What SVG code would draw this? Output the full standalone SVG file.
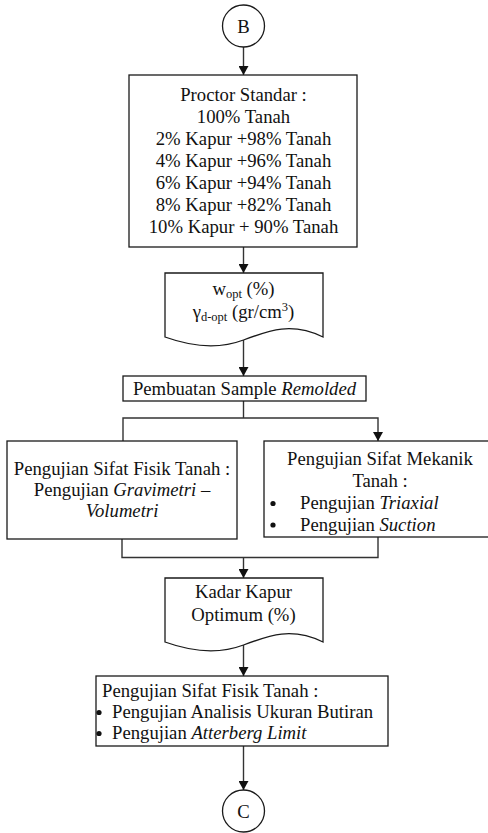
<svg xmlns="http://www.w3.org/2000/svg" width="488" height="833" viewBox="0 0 488 833">
  <style>
    .shape { fill: #ffffff; stroke: #1a1a1a; stroke-width: 1.3; }
    .wire { fill: none; stroke: #333333; stroke-width: 1.4; }
    .t { font-family: "Liberation Serif", "Times New Roman", serif; font-size: 18.7px; fill: #111111; }
    .c { text-anchor: middle; }
    .sub { font-size: 12.5px; }
  </style>
  <defs>
    <marker id="arrow" markerUnits="userSpaceOnUse" markerWidth="9" markerHeight="10" refX="9" refY="5" orient="auto">
      <path d="M0,0 L9,5 L0,10 Z" fill="#111111"/>
    </marker>
  </defs>

  <rect width="488" height="833" fill="#ffffff"/>

  <!-- connectors -->
  <g id="connectors">
    <line class="wire" x1="243.5" y1="47" x2="243.5" y2="75" marker-end="url(#arrow)"/>
    <line class="wire" x1="243.5" y1="247" x2="243.5" y2="273" marker-end="url(#arrow)"/>
    <line class="wire" x1="243.5" y1="340" x2="243.5" y2="376" marker-end="url(#arrow)"/>
    <polyline class="wire" points="243.5,401 243.5,418"/>
    <polyline class="wire" points="123,441 123,418 378,418 378,441" marker-start="url(#arrow)" marker-end="url(#arrow)"/>
    <polyline class="wire" points="122,539 122,557.5 378,557.5 378,537"/>
    <line class="wire" x1="243.5" y1="557.5" x2="243.5" y2="578" marker-end="url(#arrow)"/>
    <line class="wire" x1="243.5" y1="645" x2="243.5" y2="676" marker-end="url(#arrow)"/>
    <line class="wire" x1="243.5" y1="746" x2="243.5" y2="790" marker-end="url(#arrow)"/>
  </g>

  <!-- off-page connector B -->
  <g id="connector-b">
    <circle class="shape" cx="243.5" cy="26" r="21"/>
    <text class="t c" x="243.5" y="32.5">B</text>
  </g>

  <!-- compaction test mixes -->
  <g id="proctor">
    <rect class="shape" x="129" y="75" width="228" height="172"/>
    <text class="t c" x="243.5" y="101">Proctor Standar :</text>
    <text class="t c" x="243.5" y="123">100% Tanah</text>
    <text class="t c" x="243.5" y="145">2% Kapur +98% Tanah</text>
    <text class="t c" x="243.5" y="167">4% Kapur +96% Tanah</text>
    <text class="t c" x="243.5" y="189">6% Kapur +94% Tanah</text>
    <text class="t c" x="243.5" y="211">8% Kapur +82% Tanah</text>
    <text class="t c" x="243.5" y="233">10% Kapur + 90% Tanah</text>
  </g>

  <!-- compaction results (document) -->
  <g id="hasil-proctor">
    <path class="shape" d="M165,273 H323 V337 C292,322 270,330 243.5,340 C217,350 190,346 165,337 Z"/>
    <text class="t c" x="243.5" y="295">w<tspan class="sub" dy="3">opt</tspan><tspan dy="-3"> (%)</tspan></text>
    <text class="t c" x="243.5" y="318">γ<tspan class="sub" dy="3">d-opt</tspan><tspan dy="-3"> (gr/cm</tspan><tspan class="sub" dy="-7">3</tspan><tspan dy="7">)</tspan></text>
  </g>

  <g id="sample">
    <rect class="shape" x="123" y="376" width="243" height="25"/>
    <text class="t c" x="244.5" y="394.5">Pembuatan Sample <tspan font-style="italic">Remolded</tspan></text>
  </g>

  <g id="fisik-1">
    <rect class="shape" x="7" y="441" width="230" height="98"/>
    <text class="t c" x="122" y="475">Pengujian Sifat Fisik Tanah :</text>
    <text class="t c" x="122" y="496">Pengujian <tspan font-style="italic">Gravimetri –</tspan></text>
    <text class="t c" x="122" y="517" font-style="italic">Volumetri</text>
  </g>

  <g id="mekanik">
    <rect class="shape" x="264" y="441" width="228" height="96"/>
    <text class="t c" x="380" y="465">Pengujian Sifat Mekanik</text>
    <text class="t c" x="380" y="487">Tanah :</text>
    <circle cx="273" cy="503.5" r="2.6" fill="#111111"/>
    <text class="t" x="300" y="509">Pengujian <tspan font-style="italic">Triaxial</tspan></text>
    <circle cx="273" cy="525" r="2.6" fill="#111111"/>
    <text class="t" x="300" y="530.5">Pengujian <tspan font-style="italic">Suction</tspan></text>
  </g>

  <!-- optimum lime content (document) -->
  <g id="kadar-optimum">
    <path class="shape" d="M165,578 H323 V642 C292,627 270,635 243.5,645 C217,655 190,651 165,642 Z"/>
    <text class="t c" x="243.5" y="598">Kadar Kapur</text>
    <text class="t c" x="243.5" y="621">Optimum (%)</text>
  </g>

  <g id="fisik-2">
    <rect class="shape" x="96" y="676" width="292" height="70"/>
    <text class="t" x="102" y="697">Pengujian Sifat Fisik Tanah :</text>
    <circle cx="99" cy="712.5" r="2.6" fill="#111111"/>
    <text class="t" x="112" y="718">Pengujian Analisis Ukuran Butiran</text>
    <circle cx="99" cy="733.5" r="2.6" fill="#111111"/>
    <text class="t" x="112" y="739">Pengujian <tspan font-style="italic">Atterberg Limit</tspan></text>
  </g>

  <!-- off-page connector C -->
  <g id="connector-c">
    <circle class="shape" cx="243.5" cy="811" r="21"/>
    <text class="t c" x="243.5" y="817.5">C</text>
  </g>
</svg>
